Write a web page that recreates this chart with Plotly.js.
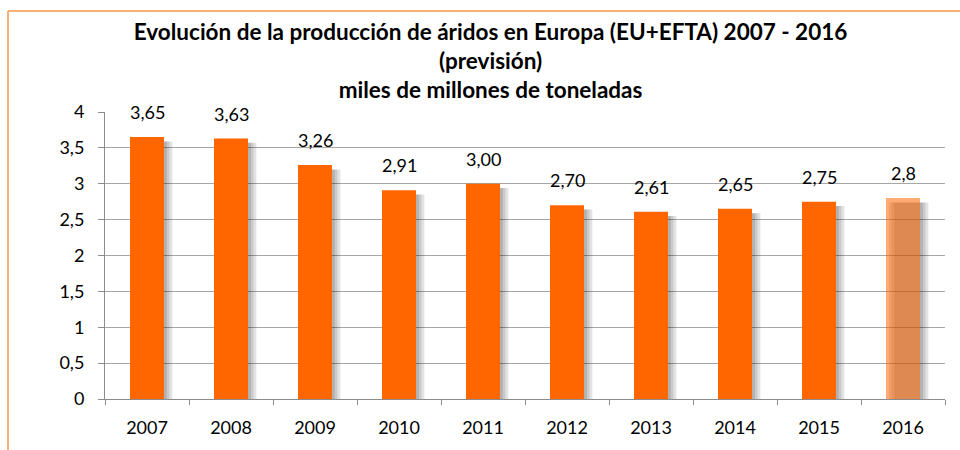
<!DOCTYPE html>
<html>
<head>
<meta charset="utf-8">
<script src="https://cdn.plot.ly/plotly-3.0.1.min.js"></script>
<style>
html,body{margin:0;padding:0;background:#fff;}
#chart{width:960px;height:450px;}
</style>
</head>
<body>
<div id="chart"></div>
<script>
const years = ['2007','2008','2009','2010','2011','2012','2013','2014','2015','2016'];
const values = [3.65, 3.63, 3.26, 2.91, 3.00, 2.70, 2.61, 2.65, 2.75, 2.80];
const valueLabels = ['3,65','3,63','3,26','2,91','3,00','2,70','2,61','2,65','2,75','2,8'];
const yTickVals = [0, 0.5, 1, 1.5, 2, 2.5, 3, 3.5, 4];
const yTickText = ['0','0,5','1','1,5','2','2,5','3','3,5','4'];
const titleText = '<b>Evolución de la producción de áridos en Europa (EU+EFTA) 2007 - 2016<br>(previsión)<br>miles de millones de toneladas</b>';

const FONT = 'Lato, "Open Sans", sans-serif';
const barW = 0.405;
const barOff = -barW / 2;
const mainColors = years.map((y, i) => i === years.length - 1 ? 'rgba(255,102,0,0.55)' : '#FF6600');

const shadowDrop = 0.06;
const shadowVals = values.map(v => v - shadowDrop);
function shadow(shiftCat) {
  return {
    type: 'bar', x: years, y: shadowVals, width: barW, offset: barOff + shiftCat,
    marker: {color: 'rgba(0,0,0,0.11)', line: {width: 0}},
    hoverinfo: 'skip', showlegend: false
  };
}
const traces = [
  shadow(0.035), shadow(0.065), shadow(0.1),
  {
    type: 'bar', x: years, y: values, width: barW, offset: barOff,
    marker: {color: mainColors, line: {width: 0}},
    hoverinfo: 'skip', showlegend: false
  }
];

const annotations = years.map((y, i) => ({
  x: i, y: values[i], xref: 'x', yref: 'y', text: valueLabels[i],
  showarrow: false, yanchor: 'bottom', yshift: 12,
  font: {family: FONT, size: 18, color: '#000'}
}));

const ox = 105, ow = 840, oy = 399, oh = 287;
const px = p => (p - ox) / ow;
const py = p => (oy - p) / oh;
const borderColor = '#F79646';
const shapes = [
  {type: 'line', xref: 'paper', yref: 'paper', x0: px(8), x1: px(962), y0: py(11), y1: py(11), line: {color: borderColor, width: 1.5}},
  {type: 'line', xref: 'paper', yref: 'paper', x0: px(8), x1: px(8), y0: py(11), y1: py(452), line: {color: borderColor, width: 1.5}}
];

const layout = {
  width: 960, height: 450,
  margin: {l: 105, r: 15, t: 112, b: 51, pad: 0},
  paper_bgcolor: '#fff', plot_bgcolor: '#fff',
  separators: ', ',
  barmode: 'overlay',
  title: {
    text: titleText, x: 0.511, xanchor: 'center', y: 0.912, yanchor: 'top',
    font: {family: FONT, size: 22.5, color: '#000'}
  },
  font: {family: FONT, size: 18, color: '#000'},
  xaxis: {
    type: 'category', range: [-0.5, 9.5], tickson: 'boundaries', ticks: 'outside', ticklen: 5, tickcolor: '#8C8C8C',
    showline: true, linecolor: '#8C8C8C', linewidth: 1, showgrid: false,
    tickfont: {family: FONT, size: 18, color: '#000'}, ticklabelstandoff: 12, fixedrange: true
  },
  yaxis: {
    range: [0, 4], tickvals: yTickVals, ticktext: yTickText,
    ticks: 'outside', ticklen: 6, tickcolor: '#8C8C8C',
    showline: true, linecolor: '#8C8C8C', linewidth: 1,
    showgrid: true, gridcolor: '#A6A6A6', gridwidth: 1, zeroline: false,
    tickfont: {family: FONT, size: 18, color: '#000'}, ticklabelstandoff: 10, fixedrange: true
  },
  annotations: annotations,
  shapes: shapes
};

Plotly.newPlot('chart', traces, layout, {displayModeBar: false, staticPlot: true});
</script>
</body>
</html>
